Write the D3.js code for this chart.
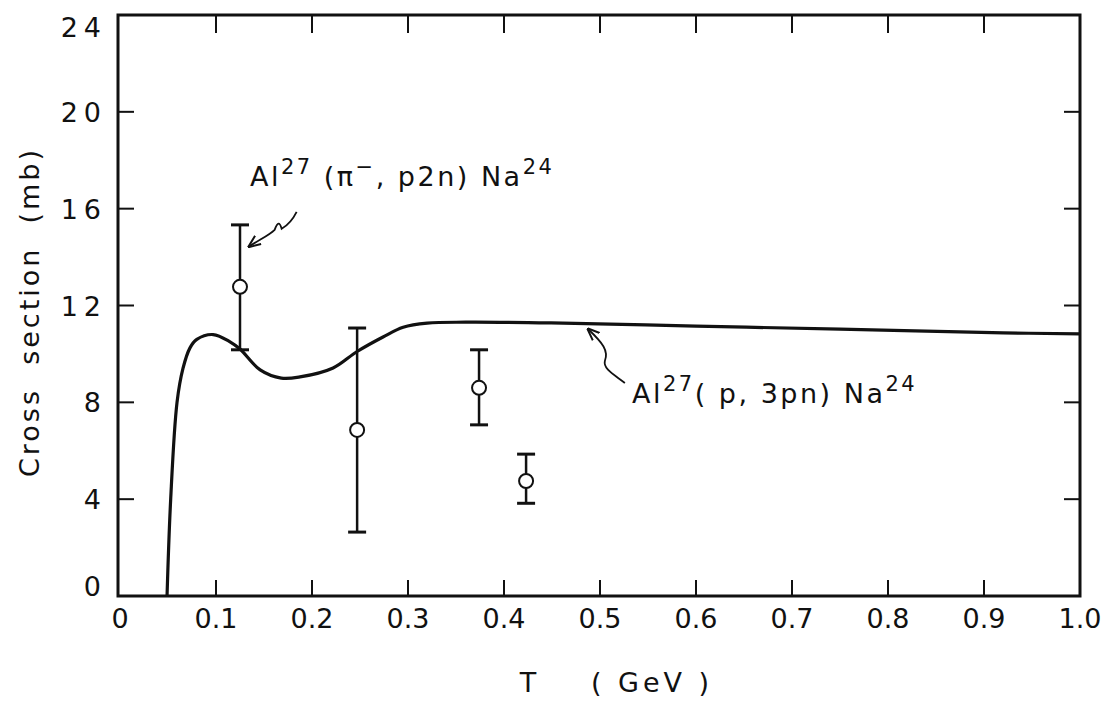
<!DOCTYPE html>
<html>
<head>
<meta charset="utf-8">
<script src="https://cdn.jsdelivr.net/npm/d3@7"></script>
<style>
  html, body { margin: 0; padding: 0; background: #fff; }
  svg text { font-family: "DejaVu Sans", sans-serif; fill: #111; }
</style>
</head>
<body>
<svg id="chart" width="1103" height="702"></svg>
<script>
// ---- data ----
const xTicks = [0, 0.1, 0.2, 0.3, 0.4, 0.5, 0.6, 0.7, 0.8, 0.9, 1.0];
const xTickLabels = ["0", "0.1", "0.2", "0.3", "0.4", "0.5", "0.6", "0.7", "0.8", "0.9", "1.0"];
const yTicks = [0, 4, 8, 12, 16, 20, 24];
const yTickLabels = ["0", "4", "8", "12", "16", "20", "24"];

// theoretical curve Al27(p,3pn)Na24
const curveT     = [0.049, 0.0528, 0.0594, 0.0656, 0.0729, 0.080, 0.097, 0.1146, 0.125, 0.146, 0.168, 0.1875, 0.222, 0.247, 0.274, 0.295, 0.32,  0.36,  0.449, 0.6,   0.75,  0.92,  1.0];
const curveSigma = [0.0,   4.0,    8.0,    9.4,    10.25,  10.6,  10.8,  10.5,   10.2,  9.34,  9.0,   9.05,   9.42,  10.1,  10.7,  11.1,  11.27, 11.31, 11.28, 11.15, 11.02, 10.87, 10.83];

// measured Al27(pi-,p2n)Na24
const dataT     = [0.125, 0.247, 0.374, 0.423];
const dataSigma = [12.77, 6.86, 8.6, 4.75];
const dataHigh  = [15.33, 11.07, 10.17, 5.86];
const dataLow   = [10.17, 2.64, 7.07, 3.83];

// ---- layout ----
const svg = d3.select("#chart");
const x = d3.scaleLinear().domain([0, 1.0]).range([120, 1080]);
const y = d3.scaleLinear().domain([0, 24]).range([596, 15]);
const x0 = 118, x1 = 1080, yTop = 15, yBot = 596;
const FS = 27;

// frame
svg.append("path")
  .attr("d", `M${x0},${yTop} L${x1},${yTop} L${x1},${yBot} L${x0},${yBot} Z`)
  .attr("fill", "none").attr("stroke", "#111").attr("stroke-width", 3);

// x ticks (bottom and top, inward)
const tickLen = 16;
xTicks.slice(1, -1).forEach(t => {
  svg.append("line").attr("x1", x(t)).attr("x2", x(t)).attr("y1", yBot).attr("y2", yBot - tickLen)
    .attr("stroke", "#111").attr("stroke-width", 2);
  svg.append("line").attr("x1", x(t)).attr("x2", x(t)).attr("y1", yTop).attr("y2", yTop + tickLen + 2)
    .attr("stroke", "#111").attr("stroke-width", 2);
});
// y ticks (left and right, inward)
yTicks.slice(1, -1).forEach(v => {
  svg.append("line").attr("x1", x0).attr("x2", x0 + tickLen).attr("y1", y(v)).attr("y2", y(v))
    .attr("stroke", "#111").attr("stroke-width", 2);
  svg.append("line").attr("x1", x1).attr("x2", x1 - tickLen).attr("y1", y(v)).attr("y2", y(v))
    .attr("stroke", "#111").attr("stroke-width", 2);
});

// x tick labels
xTicks.forEach((t, i) => {
  svg.append("text").attr("x", x(t)).attr("y", 628)
    .attr("text-anchor", "middle").attr("font-size", FS)
    .text(xTickLabels[i]);
});
// y tick labels
yTicks.forEach((v, i) => {
  const py = Math.max(27, Math.min(586, y(v)));
  svg.append("text").attr("x", 107).attr("y", py + 10)
    .attr("text-anchor", "end").attr("font-size", FS)
    .attr("letter-spacing", 6)
    .text(yTickLabels[i]);
});

// axis titles
svg.append("text").attr("x", 528).attr("y", 692).attr("text-anchor", "middle")
  .attr("font-size", FS).text("T");
svg.append("text").attr("x", 652).attr("y", 692).attr("text-anchor", "middle")
  .attr("font-size", FS).attr("letter-spacing", 4).text("( GeV )");
svg.append("text")
  .attr("transform", "translate(39,312) rotate(-90)")
  .attr("text-anchor", "middle").attr("font-size", FS).attr("letter-spacing", 3)
  .attr("xml:space", "preserve")
  .text("Cross  section  (mb)");

// curve
const line = d3.line().x((d, i) => x(curveT[i])).y(d => y(d)).curve(d3.curveCatmullRom.alpha(0.5));
svg.append("path").datum(curveSigma)
  .attr("d", line).attr("fill", "none").attr("stroke", "#111").attr("stroke-width", 3.2);

// error bars and points
const capW = 9;
dataT.forEach((t, i) => {
  const g = svg.append("g");
  g.append("line").attr("x1", x(t)).attr("x2", x(t)).attr("y1", y(dataHigh[i])).attr("y2", y(dataLow[i]))
    .attr("stroke", "#111").attr("stroke-width", 2.5);
  [dataHigh[i], dataLow[i]].forEach(v => {
    g.append("line").attr("x1", x(t) - capW).attr("x2", x(t) + capW).attr("y1", y(v)).attr("y2", y(v))
      .attr("stroke", "#111").attr("stroke-width", 3);
  });
  g.append("circle").attr("cx", x(t)).attr("cy", y(dataSigma[i])).attr("r", 7)
    .attr("fill", "#fff").attr("stroke", "#111").attr("stroke-width", 2);
});

// annotations
function label(px, py, parts) {
  const t = svg.append("text").attr("x", px).attr("y", py).attr("font-size", FS).attr("letter-spacing", 2.5)
    .attr("xml:space", "preserve");
  parts.forEach(p => {
    const s = t.append("tspan").text(p.s);
    if (p.sup) s.attr("dy", -12).attr("font-size", 21);
    if (p.down) s.attr("dy", 12);
  });
}
label(250, 186, [{s: "Al"}, {s: "27", sup: true}, {s: " (π", down: true}, {s: "−", sup: true}, {s: ", p2n) Na", down: true}, {s: "24", sup: true}]);
label(632, 403, [{s: "Al"}, {s: "27", sup: true}, {s: "( p, 3pn) Na", down: true}, {s: "24", sup: true}]);

// squiggly arrows (anchored in data space)
const defs = svg.append("defs");
defs.append("marker").attr("id", "ah").attr("viewBox", "0 0 10 10").attr("refX", 9).attr("refY", 5)
  .attr("markerWidth", 7).attr("markerHeight", 7).attr("orient", "auto")
  .append("path").attr("d", "M0,1 L10,5 L0,9").attr("fill", "none").attr("stroke", "#111").attr("stroke-width", 1.6);

const a1 = {tx: 0.184, ty: 15.87, hx: 0.1344, hy: 14.43};
const p1 = d3.path();
p1.moveTo(x(a1.tx), y(a1.ty));
p1.bezierCurveTo(x(a1.tx) - 4, y(a1.ty) + 8, x(a1.tx) - 10, y(a1.ty) + 14, x(a1.tx) - 15, y(a1.ty) + 17);
p1.bezierCurveTo(x(a1.tx) - 17, y(a1.ty) + 10, x(a1.tx) - 19, y(a1.ty) + 10, x(a1.tx) - 22, y(a1.ty) + 18);
p1.bezierCurveTo(x(a1.tx) - 28, y(a1.ty) + 24, x(a1.hx) + 8, y(a1.hy) - 6, x(a1.hx), y(a1.hy));
svg.append("path").attr("d", p1.toString()).attr("fill", "none").attr("stroke", "#111").attr("stroke-width", 1.8)
  .attr("marker-end", "url(#ah)");

const a2 = {tx: 0.5259, ty: 8.8, hx: 0.4875, hy: 11.03};
const p2 = d3.path();
p2.moveTo(x(a2.tx), y(a2.ty));
p2.bezierCurveTo(x(a2.tx) - 10, y(a2.ty) - 8, x(a2.tx) - 22, y(a2.ty) - 14, x(a2.tx) - 20, y(a2.ty) - 22);
p2.bezierCurveTo(x(a2.tx) - 16, y(a2.ty) - 32, x(a2.tx) - 22, y(a2.ty) - 40, x(a2.hx), y(a2.hy));
svg.append("path").attr("d", p2.toString()).attr("fill", "none").attr("stroke", "#111").attr("stroke-width", 1.8)
  .attr("marker-end", "url(#ah)");
</script>
</body>
</html>
